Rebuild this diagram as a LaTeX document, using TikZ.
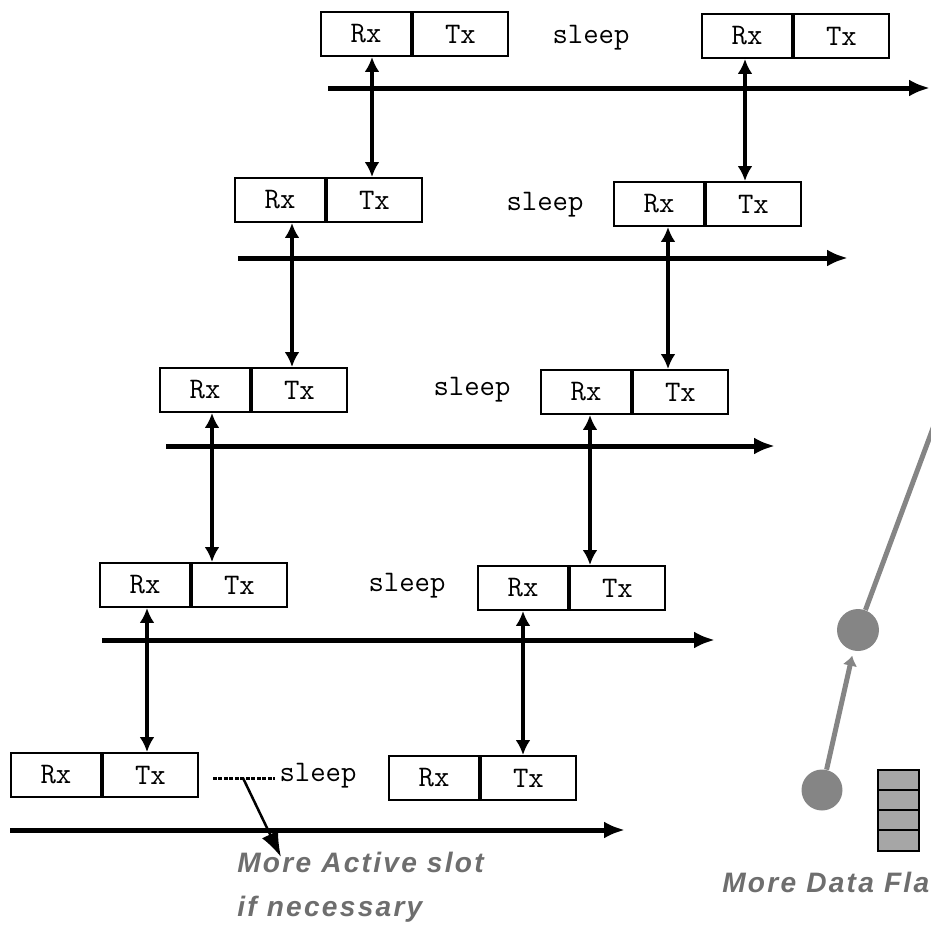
\documentclass[tikz,border=0pt]{standalone}
\usepackage{fontspec}
\newfontfamily\notefont[LetterSpace=8]{Liberation Sans}
\usetikzlibrary{positioning,arrows.meta}
\definecolor{flowgray}{HTML}{858585}
\definecolor{notegray}{HTML}{6E6E6E}
\definecolor{flaggray}{HTML}{A6A6A6}

\begin{document}
\begin{tikzpicture}[x=0.02cm,y=-0.02cm,
    slot/.style={draw,line width=0.04cm,minimum height=0.88cm,inner sep=0pt,
      font=\ttfamily\fontsize{17}{17}\selectfont},
    rxslot/.style={slot,minimum width=1.8cm},
    txslot/.style={slot,minimum width=1.9cm},
    idle/.style={font=\ttfamily\fontsize{17}{17}\selectfont},
    time/.style={line width=0.1cm,-{Latex[length=0.42cm,width=0.34cm]}},
    link/.style={line width=0.07cm,{Latex[length=0.3cm,width=0.3cm]}-{Latex[length=0.3cm,width=0.3cm]}},
    note/.style={text=notegray,inner sep=0pt,align=left,
      font=\notefont\bfseries\itshape\fontsize{16}{25}\selectfont}]
    \useasboundingbox (0,0) rectangle (931,927);
    \clip (0,0) rectangle (931,927);

    % node 1 (top)
    \node[rxslot] (rx1a) at (366,34) {Rx};
    \node[txslot,right=0pt of rx1a] (tx1a) {Tx};
    \node[idle] (sleep1) at (591,38) {sleep};
    \node[rxslot] (rx1b) at (747,36) {Rx};
    \node[txslot,right=0pt of rx1b] (tx1b) {Tx};
    \draw[time] (328,88) -- (930,88);

    % node 2
    \node[rxslot] (rx2a) at (280,200) {Rx};
    \node[txslot,right=0pt of rx2a] (tx2a) {Tx};
    \node[idle] (sleep2) at (545,205) {sleep};
    \node[rxslot] (rx2b) at (659,204) {Rx};
    \node[txslot,right=0pt of rx2b] (tx2b) {Tx};
    \draw[time] (238,258) -- (848,258);

    % node 3
    \node[rxslot] (rx3a) at (205,390) {Rx};
    \node[txslot,right=0pt of rx3a] (tx3a) {Tx};
    \node[idle] (sleep3) at (472,390) {sleep};
    \node[rxslot] (rx3b) at (586,392) {Rx};
    \node[txslot,right=0pt of rx3b] (tx3b) {Tx};
    \draw[time] (166,446) -- (775,446);

    % node 4
    \node[rxslot] (rx4a) at (145,585) {Rx};
    \node[txslot,right=0pt of rx4a] (tx4a) {Tx};
    \node[idle] (sleep4) at (407,586) {sleep};
    \node[rxslot] (rx4b) at (523,588) {Rx};
    \node[txslot,right=0pt of rx4b] (tx4b) {Tx};
    \draw[time] (102,640) -- (715,640);

    % node 5 (bottom)
    \node[rxslot] (rx5a) at (56,775) {Rx};
    \node[txslot,right=0pt of rx5a] (tx5a) {Tx};
    \node[idle] (sleep5) at (318,776) {sleep};
    \node[rxslot] (rx5b) at (434,778) {Rx};
    \node[txslot,right=0pt of rx5b] (tx5b) {Tx};
    \draw[time] (10,830) -- (625,830);

    % Tx of the lower node talks to Rx of the upper one
    \draw[link] ([xshift=0.12cm]rx1a.south) -- ([xshift=0.12cm]rx1a.south |- tx2a.north);
    \draw[link] ([xshift=-0.04cm]rx1b.south) -- ([xshift=-0.04cm]rx1b.south |- tx2b.north);
    \draw[link] ([xshift=0.24cm]rx2a.south) -- ([xshift=0.24cm]rx2a.south |- tx3a.north);
    \draw[link] ([xshift=0.18cm]rx2b.south) -- ([xshift=0.18cm]rx2b.south |- tx3b.north);
    \draw[link] ([xshift=0.14cm]rx3a.south) -- ([xshift=0.14cm]rx3a.south |- tx4a.north);
    \draw[link] ([xshift=0.08cm]rx3b.south) -- ([xshift=0.08cm]rx3b.south |- tx4b.north);
    \draw[link] ([xshift=0.04cm]rx4a.south) -- ([xshift=0.04cm]rx4a.south |- tx5a.north);
    \draw[link] (rx4b.south) -- (rx4b.south |- tx5b.north);

    % extra active slot
    \draw[line width=0.06cm,dash pattern=on 0.08cm off 0.03cm] (213,778) -- (275,778);
    \coordinate (extra) at (243,778);
    \node[note,anchor=north west] (active) at (237,852) {More Active slot\\if necessary};
    \draw[line width=0.05cm,-{Latex[length=0.5cm,width=0.36cm]}] (extra) -- ([xshift=0.88cm,yshift=-0.1cm]active.north west);

    % data flow with the flag queue
    \node[circle,fill=flowgray,minimum size=0.82cm,inner sep=0pt] (hopa) at (822,790) {};
    \node[circle,fill=flowgray,minimum size=0.84cm,inner sep=0pt] (hopb) at (858,630) {};
    \draw[flowgray,line width=0.1cm,-{Latex[length=0.2cm,width=0.3cm]},shorten >=0.1cm] (hopa) -- (hopb);
    \draw[flowgray,line width=0.1cm] (hopb) -- (942,404);
    \draw[line width=0.04cm,fill=flaggray] (878,770) rectangle (919,851);
    \draw[line width=0.04cm] (878,790) -- (919,790) (878,810) -- (919,810) (878,830) -- (919,830);
    \node[note,anchor=base west] (flag) at (722,892) {More Data Flag};
\end{tikzpicture}
\end{document}
